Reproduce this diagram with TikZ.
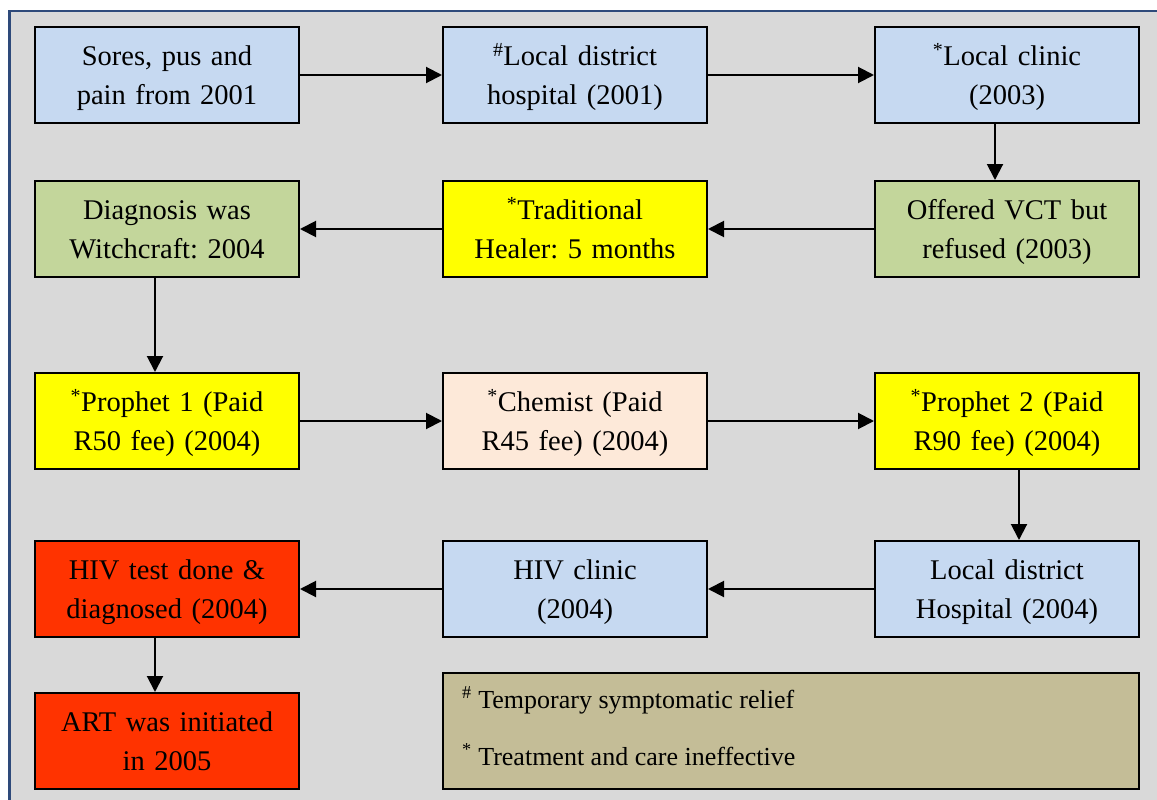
\documentclass[tikz,border=0pt]{standalone}
\usepackage{fontspec}
\setmainfont{Liberation Serif}
\usetikzlibrary{arrows.meta}
\definecolor{bgc}{HTML}{D9D9D9}
\definecolor{framec}{HTML}{2E4A7A}
\definecolor{bluec}{HTML}{C6D9F1}
\definecolor{greenc}{HTML}{C3D69B}
\definecolor{yellowc}{HTML}{FFFF00}
\definecolor{peachc}{HTML}{FDE9D9}
\definecolor{redc}{HTML}{FF3300}
\definecolor{legc}{HTML}{C4BD97}
\tikzset{
  box/.style={draw=black, line width=2pt, minimum width=264pt, minimum height=96pt,
    inner sep=0pt, align=center, text width=250pt,
    font=\fontsize{28.5}{39}\selectfont\frenchspacing,
    execute at begin node=\rule{0pt}{31.3pt}, execute at end node=\strut},
  legtext/.style={anchor=base west, inner sep=0pt, font=\fontsize{26}{26}\selectfont\frenchspacing},
  conn/.style={line width=2pt, -{Triangle[length=16pt,width=16pt]}},
}
\begin{document}
\begin{tikzpicture}[x=1pt,y=-1pt]
\useasboundingbox (0,0) rectangle (1157,800);
\begin{scope}
\clip (0,0) rectangle (1157,800);
\draw[fill=bgc, draw=framec, line width=2.5pt] (9.5,11) rectangle (1200,850);
\end{scope}
% row 1
\node[box, fill=bluec] (b1) at (167,75) {Sores, pus and\\pain from 2001};
\node[box, fill=bluec] (b2) at (575,75) {\textsuperscript{\#}Local district\\hospital (2001)};
\node[box, fill=bluec] (b3) at (1007,75) {\textsuperscript{*}Local clinic\\(2003)};
% row 2
\node[box, fill=greenc] (b4) at (167,229) {Diagnosis was\\Witchcraft: 2004};
\node[box, fill=yellowc] (b5) at (575,229) {\textsuperscript{*}Traditional\\Healer: 5 months};
\node[box, fill=greenc] (b6) at (1007,229) {Offered VCT but\\refused (2003)};
% row 3
\node[box, fill=yellowc] (b7) at (167,421) {\textsuperscript{*}Prophet 1 (Paid\\R50 fee) (2004)};
\node[box, fill=peachc] (b8) at (575,421) {\textsuperscript{*}Chemist (Paid\\R45 fee) (2004)};
\node[box, fill=yellowc] (b9) at (1007,421) {\textsuperscript{*}Prophet 2 (Paid\\R90 fee) (2004)};
% row 4
\node[box, fill=redc] (b10) at (167,589) {HIV test done \&\\diagnosed (2004)};
\node[box, fill=bluec] (b11) at (575,589) {HIV clinic\\(2004)};
\node[box, fill=bluec] (b12) at (1007,589) {Local district\\Hospital (2004)};
% row 5
\node[box, fill=redc] (b13) at (167,741) {ART was initiated\\in 2005};
\node[draw=black, line width=2pt, fill=legc, minimum width=696pt, minimum height=116pt,
  inner sep=0pt] (leg) at (791,731) {};
\node[legtext] (l1) at (462,708) {\textsuperscript{\#} Temporary symptomatic relief};
\node[legtext] (l2) at (462,765) {\textsuperscript{*} Treatment and care ineffective};
% connectors
\draw[conn] (b1) -- (b2);
\draw[conn] (b2) -- (b3);
\draw[conn] ([xshift=-12pt]b3.south) -- ([xshift=-12pt]b6.north);
\draw[conn] (b6) -- (b5);
\draw[conn] (b5) -- (b4);
\draw[conn] ([xshift=-12pt]b4.south) -- ([xshift=-12pt]b7.north);
\draw[conn] (b7) -- (b8);
\draw[conn] (b8) -- (b9);
\draw[conn] ([xshift=12pt]b9.south) -- ([xshift=12pt]b12.north);
\draw[conn] (b12) -- (b11);
\draw[conn] (b11) -- (b10);
\draw[conn] ([xshift=-12pt]b10.south) -- ([xshift=-12pt]b13.north);
\end{tikzpicture}
\end{document}
